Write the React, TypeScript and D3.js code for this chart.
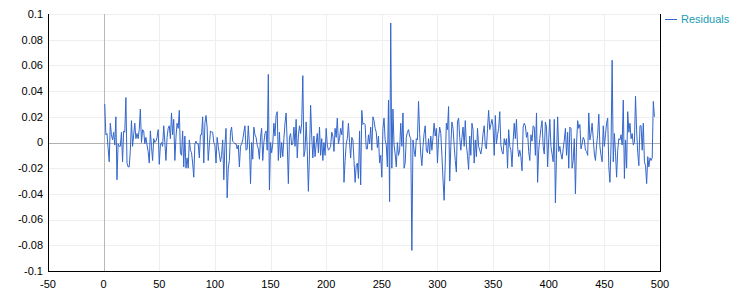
import React from "react";
import * as d3 from "d3";

const seriesName = "Residuals";
const firstIndex = 1;

const residuals = [
  0.030, 0.006, 0.007, -0.004, -0.015, 0.015, 0.006, 0.002, 0.008, -0.002,
  0.020, -0.029, -0.001, -0.003, -0.003, 0.008, -0.015, 0.009, 0.008, 0.035,
  -0.016, -0.019, -0.019, -0.006, 0.017, -0.003, 0.006, 0.015, 0.003, 0.007,
  0.003, 0.010, 0.026, 0.000, 0.010, 0.009, -0.001, 0.004, -0.002, -0.007,
  -0.016, 0.009, -0.003, -0.014, 0.003, 0.000, 0.001, 0.004, 0.010, -0.017,
  // 51..99
  -0.002, 0.000, -0.003, 0.013, 0.000, -0.014, 0.004, 0.011, 0.013, 0.003,
  0.023, 0.006, 0.018, -0.014, 0.004, 0.015, 0.011, 0.025, -0.008, -0.010,
  0.009, -0.019, 0.005, -0.020, -0.012, -0.020, 0.002, -0.006, -0.008, -0.016,
  -0.027, -0.001, 0.001, -0.001, -0.001, -0.012, 0.006, 0.006, 0.020, -0.016,
  0.015, 0.021, 0.012, -0.014, -0.002, 0.009, 0.008, 0.008, 0.000,
  // 100..148
  -0.002, -0.016, 0.004, -0.003, -0.009, -0.015, -0.010, 0.002, -0.029, -0.002,
  0.011, -0.043, -0.020, -0.014, 0.008, 0.012, 0.001, 0.000, -0.001, -0.001,
  -0.005, -0.002, -0.019, -0.003, -0.001, 0.002, 0.008, 0.013, -0.006, -0.005,
  0.013, -0.001, -0.032, 0.000, -0.013, 0.012, 0.006, 0.004, -0.002, -0.005,
  -0.013, 0.004, 0.011, -0.014, 0.000, 0.007, 0.009, -0.006, 0.053,
  // 149..198
  -0.037, 0.000, -0.008, -0.001, 0.015, 0.005, 0.021, 0.024, -0.014, 0.008,
  -0.012, 0.000, -0.011, 0.003, 0.015, 0.023, -0.001, -0.032, 0.004, 0.007,
  -0.002, -0.001, 0.012, -0.003, 0.018, -0.012, 0.005, 0.013, 0.007, 0.015,
  0.052, -0.011, -0.006, 0.016, -0.006, -0.038, -0.009, 0.029, 0.005, -0.012,
  0.005, -0.011, -0.001, 0.007, -0.008, 0.012, -0.010, 0.003, -0.014, 0.000,
  // 199..247
  -0.010, 0.011, -0.002, -0.006, -0.005, -0.003, 0.008, 0.005, -0.007, 0.011,
  0.004, 0.019, -0.001, 0.003, 0.011, 0.006, 0.017, -0.031, -0.014, -0.001,
  0.003, 0.015, 0.000, -0.012, 0.004, 0.002, -0.014, -0.031, -0.018, -0.016,
  -0.028, 0.009, -0.033, 0.025, 0.014, 0.015, 0.014, -0.005, -0.005, 0.006,
  -0.001, 0.012, -0.006, 0.020, 0.017, 0.011, 0.008, -0.004, 0.005,
  // 248..297
  -0.016, -0.010, -0.027, 0.011, 0.019, 0.002, -0.002, -0.019, 0.033, -0.046,
  0.093, -0.020, 0.026, -0.002, -0.009, -0.019, 0.000, -0.010, -0.006, 0.015,
  -0.003, 0.023, -0.020, -0.016, 0.004, 0.008, 0.010, 0.005, 0.003, -0.084,
  0.002, -0.006, -0.011, 0.003, 0.002, 0.032, 0.007, -0.009, -0.018, -0.003,
  0.007, 0.013, -0.006, -0.008, 0.003, -0.009, 0.005, -0.006, 0.004, 0.015,
  // 298..346
  0.005, 0.011, -0.016, 0.003, 0.012, 0.007, -0.010, -0.029, -0.045, -0.016,
  0.015, 0.010, 0.028, -0.030, -0.003, 0.016, 0.011, -0.002, -0.014, -0.023,
  0.016, 0.019, 0.004, -0.006, 0.004, 0.012, -0.003, 0.017, -0.002, -0.010,
  -0.021, 0.005, -0.010, 0.015, 0.010, -0.016, 0.002, -0.011, 0.011, -0.003,
  -0.006, -0.009, -0.003, 0.007, 0.013, -0.003, -0.005, 0.011, 0.025,
  // 347..396
  0.010, 0.014, 0.018, 0.012, -0.010, 0.021, -0.001, 0.006, 0.011, 0.024,
  -0.002, -0.007, -0.009, 0.003, -0.002, 0.003, -0.020, 0.010, -0.003, -0.006,
  -0.019, 0.001, 0.015, 0.003, 0.018, -0.003, -0.011, -0.006, -0.011, -0.022,
  0.012, 0.015, 0.013, 0.004, 0.008, -0.007, -0.014, 0.006, 0.001, 0.013,
  0.012, -0.010, 0.023, -0.031, -0.006, 0.003, 0.011, 0.017, -0.003, -0.009,
  // 397..445
  0.016, 0.012, -0.019, 0.003, 0.018, -0.003, -0.009, -0.015, 0.018, -0.047,
  -0.009, 0.020, -0.007, -0.003, -0.009, -0.013, -0.005, 0.002, 0.011, -0.010,
  0.008, -0.020, 0.012, 0.011, -0.020, -0.014, 0.003, -0.040, -0.001, 0.017,
  0.011, 0.014, -0.005, -0.001, 0.004, 0.002, -0.006, -0.007, -0.010, 0.023,
  0.002, 0.007, 0.015, 0.003, -0.009, -0.014, -0.002, 0.006, 0.022,
  // 446..495
  -0.003, -0.010, -0.015, 0.013, -0.003, 0.006, 0.015, 0.019, -0.019, -0.031,
  -0.002, 0.064, -0.015, 0.007, -0.008, -0.027, -0.006, 0.003, 0.002, 0.006,
  -0.002, 0.033, -0.028, 0.002, -0.020, 0.024, 0.008, 0.015, 0.003, 0.007,
  -0.002, 0.000, 0.036, 0.009, -0.008, -0.018, 0.013, 0.013, -0.006, 0.015,
  -0.015, -0.018, -0.032, -0.011, -0.019, -0.012, -0.014, -0.012, 0.032, 0.020,
];

const xDomain = [-50, 500];
const yDomain = [-0.1, 0.1];
const xTicks = [-50, 0, 50, 100, 150, 200, 250, 300, 350, 400, 450, 500];
const yTicks = [-0.1, -0.08, -0.06, -0.04, -0.02, 0, 0.02, 0.04, 0.06, 0.08, 0.1];
const yTickLabels = ["-0.1", "-0.08", "-0.06", "-0.04", "-0.02", "0", "0.02", "0.04", "0.06", "0.08", "0.1"];

export default function App() {
  const W = 750;
  const H = 300;
  const L = 48, R = 660, T = 14, B = 271;
  const x = d3.scaleLinear().domain(xDomain).range([L, R]);
  const y = d3.scaleLinear().domain(yDomain).range([B, T]);
  const line = d3
    .line<number>()
    .x((_, i) => x(i + firstIndex))
    .y((d) => y(d));
  const px = (v: number) => Math.round(v) + 0.5;
  const font = "'Liberation Sans', Arial, sans-serif";

  return (
    <svg
      width={W}
      height={H}
      style={{ position: "absolute", left: 0, top: 0, background: "#fff" }}
      fontFamily={font}
      fontSize={11}
    >
      {/* grid */}
      {xTicks.map((t) =>
        t === 0 || t === xDomain[0] || t === xDomain[1] ? null : (
          <line key={"gx" + t} x1={px(x(t))} x2={px(x(t))} y1={T} y2={B} stroke="#eeeeee" />
        )
      )}
      {yTicks.map((t) =>
        t === 0 || t === yDomain[0] ? null : (
          <line key={"gy" + t} x1={L} x2={R} y1={px(y(t))} y2={px(y(t))} stroke="#eeeeee" />
        )
      )}
      {/* zero lines */}
      <line x1={px(x(0))} x2={px(x(0))} y1={T} y2={B} stroke="#b8b8b8" />
      <line x1={L} x2={R} y1={px(y(0))} y2={px(y(0))} stroke="#b0b0b0" />

      {/* series */}
      <path d={line(residuals) || ""} fill="none" stroke="#3366cc" strokeWidth={1} />

      {/* frame */}
      <line x1={px(L)} x2={px(L)} y1={T} y2={B + 1} stroke="#000" />
      <line x1={L} x2={R + 1} y1={px(B)} y2={px(B)} stroke="#000" />
      <line x1={px(R)} x2={px(R)} y1={T} y2={B + 1} stroke="#000" />

      {/* y labels */}
      {yTicks.map((t, i) => (
        <text key={"ly" + t} x={L - 5} y={y(t)} dy="0.35em" textAnchor="end" fill="#000">
          {yTickLabels[i]}
        </text>
      ))}
      {/* x labels */}
      {xTicks.map((t) => (
        <text key={"lx" + t} x={x(t)} y={288} textAnchor="middle" fill="#000">
          {String(t)}
        </text>
      ))}

      {/* legend */}
      <line x1={665} x2={677} y1={19.5} y2={19.5} stroke="#3366cc" />
      <text x={681} y={23} fill="#1a9db3">
        {seriesName}
      </text>
    </svg>
  );
}
